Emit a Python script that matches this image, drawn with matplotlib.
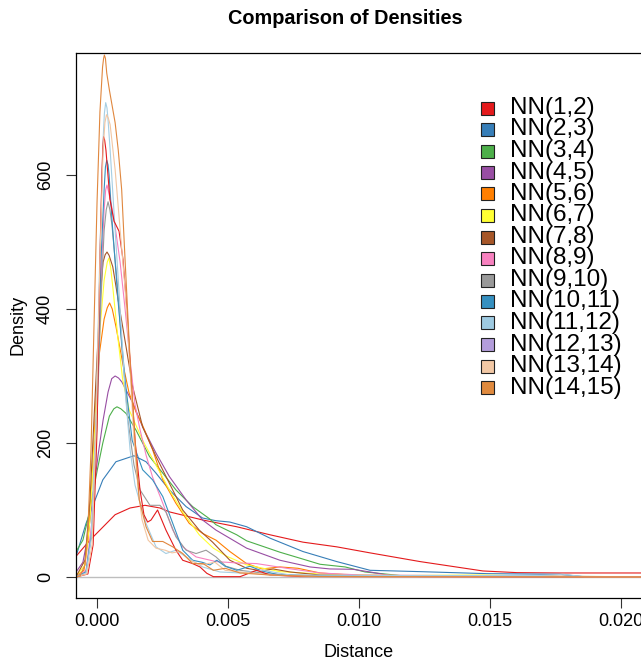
import matplotlib as mpl
mpl.use('Agg')
import matplotlib.pyplot as plt
from matplotlib.patches import Rectangle

plt.rcParams['font.family'] = ['Liberation Sans', 'DejaVu Sans']

# density curves (x = distance, y = density)
x_nn12 = [-0.00081, -0.00028, 0.00010, 0.00068, 0.00125, 0.00182, 0.00239, 0.00277, 0.00403, 0.00532, 0.00659, 0.00785, 0.00914, 0.01041, 0.01232, 0.01472, 0.01602, 0.01766, 0.02148]
y_nn12 = [31, 55, 70, 93, 103, 107, 103, 97, 85, 75, 63, 52, 45, 36, 23, 9, 6.5, 6, 6]

x_nn23 = [-0.00081, -0.00043, 0.00021, 0.00071, 0.00140, 0.00186, 0.00224, 0.00275, 0.00339, 0.00402, 0.00453, 0.00506, 0.00570, 0.00659, 0.00785, 0.00914, 0.01041, 0.01232, 0.01486, 0.01766, 0.01854, 0.02148]
y_nn23 = [31, 80, 145, 172, 181, 172, 155, 130, 105, 88, 84, 82, 75, 58, 38, 23, 10, 8, 5, 4, 0.5, 0.5]

x_nn34 = [-0.00081, -0.00055, -0.00037, -0.00018, 0.0, 0.00021, 0.00046, 0.00063, 0.00075, 0.00090, 0.00110, 0.00148, 0.00199, 0.00250, 0.00300, 0.00364, 0.00428, 0.00453, 0.00532, 0.00570, 0.00697, 0.00774, 0.00850, 0.00946, 0.01022, 0.01156, 0.01919, 0.02148]
y_nn34 = [38, 55, 85, 122, 160, 200, 240, 251, 254, 251, 244, 219, 180, 155, 130, 105, 87, 78, 63, 54, 37, 28, 19, 15, 7.5, 2.2, 0.7, 0]

x_nn45 = [-0.00081, -0.00055, -0.00035, -0.00016, 0.00003, 0.00022, 0.00041, 0.00055, 0.00068, 0.00081, 0.00094, 0.00135, 0.00173, 0.00224, 0.00275, 0.00339, 0.00402, 0.00453, 0.00570, 0.00697, 0.00812, 0.00888, 0.00976, 0.01041, 0.01117, 0.01232, 0.02148]
y_nn45 = [7.5, 22, 63, 122, 182, 234, 276, 296, 300, 297, 291, 260, 224, 185, 150, 115, 85, 70, 43, 25, 15, 12, 11.5, 7.5, 2.2, 0.7, 0]

x_nn56 = [-0.00081, -0.00051, -0.00035, -0.00020, -0.00005, 0.00008, 0.00026, 0.00038, 0.00047, 0.00057, 0.00071, 0.00097, 0.00121, 0.00148, 0.00173, 0.00211, 0.00250, 0.00300, 0.00351, 0.00402, 0.00453, 0.00506, 0.00570, 0.00629, 0.00697, 0.00766, 0.00850, 0.01003, 0.01537, 0.01640, 0.01766, 0.02148]
y_nn56 = [0.7, 10, 55, 145, 264, 334, 385, 402, 409, 400, 374, 319, 275, 246, 226, 190, 145, 110, 80, 65, 55, 38, 20, 12, 15, 13, 6, 2, 1.5, 2, 0.7, 0]

x_nn67 = [-0.00081, -0.00047, -0.00028, -0.00009, 0.00010, 0.00026, 0.00038, 0.00044, 0.00051, 0.00059, 0.00078, 0.00097, 0.00122, 0.00173, 0.00224, 0.00275, 0.00326, 0.00389, 0.00443, 0.00494, 0.00570, 0.00697, 0.00850, 0.01156, 0.01461, 0.01766, 0.02148]
y_nn67 = [0.7, 18, 85, 219, 369, 443, 470, 476, 462, 433, 359, 294, 249, 204, 167, 130, 97, 63, 43, 31, 18, 8, 4.5, 2.2, 3, 0.7, 0]

x_nn78 = [-0.00081, -0.00047, -0.00028, -0.00009, 0.00010, 0.00022, 0.00030, 0.00037, 0.00045, 0.00059, 0.00084, 0.00110, 0.00135, 0.00173, 0.00224, 0.00275, 0.00326, 0.00389, 0.00440, 0.00506, 0.00570, 0.00629, 0.00671, 0.00736, 0.00850, 0.01156, 0.02148]
y_nn78 = [0.7, 25, 115, 264, 414, 470, 481, 485, 480, 463, 403, 343, 284, 224, 180, 140, 100, 70, 52, 25, 13, 9, 12, 7.5, 3, 1.5, 0]

x_nn89 = [-0.00081, -0.00043, -0.00020, -0.00001, 0.00014, 0.00026, 0.00032, 0.00037, 0.00043, 0.00055, 0.00068, 0.00087, 0.00106, 0.00125, 0.00144, 0.00163, 0.00186, 0.00211, 0.00250, 0.00288, 0.00326, 0.00377, 0.00453, 0.00532, 0.00608, 0.00723, 0.00850, 0.01003, 0.02148]
y_nn89 = [0, 10, 85, 264, 443, 548, 578, 585, 575, 553, 523, 470, 400, 324, 257, 220, 182, 149, 110, 70, 45, 30, 23, 21, 20, 13, 6, 3, 0]

x_nn910 = [-0.00081, -0.00043, -0.00020, -0.00001, 0.00014, 0.00026, 0.00034, 0.00041, 0.00048, 0.00056, 0.00075, 0.00094, 0.00117, 0.00140, 0.00163, 0.00201, 0.00239, 0.00262, 0.00300, 0.00339, 0.00377, 0.00415, 0.00453, 0.00491, 0.00545, 0.00659, 0.00850, 0.02148]
y_nn910 = [0, 7.5, 70, 234, 413, 517, 548, 560, 548, 525, 443, 340, 234, 167, 130, 107, 107, 97, 60, 40, 35, 40, 30, 16, 10, 4.5, 1.5, 0]

x_nn1011 = [-0.00081, -0.00043, -0.00020, -0.00001, 0.00014, 0.00026, 0.00031, 0.00036, 0.00041, 0.00045, 0.00056, 0.00079, 0.00106, 0.00133, 0.00173, 0.00211, 0.00250, 0.00288, 0.00326, 0.00364, 0.00400, 0.00430, 0.00456, 0.00488, 0.00532, 0.00583, 0.00629, 0.00697, 0.00888, 0.02148]
y_nn1011 = [0, 7.5, 70, 264, 473, 578, 612, 622, 615, 600, 533, 413, 294, 204, 160, 145, 120, 80, 40, 25, 22, 18, 25, 16, 10, 16, 9, 3, 1.5, 0]

x_nn1112 = [-0.00081, -0.00043, -0.00024, -0.00005, 0.00010, 0.00022, 0.00027, 0.00032, 0.00037, 0.00041, 0.00049, 0.00068, 0.00087, 0.00106, 0.00125, 0.00144, 0.00160, 0.00186, 0.00224, 0.00262, 0.00300, 0.00339, 0.00402, 0.00468, 0.00545, 0.00632, 0.00736, 0.01156, 0.01690, 0.01778, 0.01862, 0.02148]
y_nn1112 = [0, 6, 55, 234, 488, 652, 692, 708, 700, 682, 637, 518, 400, 279, 190, 137, 115, 80, 45, 35, 40, 30, 15, 7.5, 6, 10, 3, 2.2, 2.2, 4, 0.3, 0]

x_nn1213 = [-0.00081, -0.00036, -0.00016, -0.00001, 0.00010, 0.00018, 0.00021, 0.00024, 0.00028, 0.00033, 0.00048, 0.00064, 0.00083, 0.00098, 0.00113, 0.00129, 0.00144, 0.00163, 0.00178, 0.00192, 0.00205, 0.00230, 0.00262, 0.00300, 0.00326, 0.00364, 0.00392, 0.00418, 0.00443, 0.00545, 0.00608, 0.00659, 0.00774, 0.02148]
y_nn1213 = [0, 4.5, 48, 219, 473, 607, 640, 657, 652, 637, 564, 531, 516, 474, 400, 294, 204, 130, 93, 82, 85, 100, 70, 40, 25, 20, 15, 5.5, 0.5, 0.5, 10, 3, 0.7, 0]

x_nn1314 = [-0.00081, -0.00040, -0.00020, -0.00005, 0.00010, 0.00022, 0.00029, 0.00035, 0.00042, 0.00049, 0.00068, 0.00087, 0.00106, 0.00125, 0.00140, 0.00156, 0.00171, 0.00194, 0.00224, 0.00259, 0.00285, 0.00316, 0.00354, 0.00392, 0.00449, 0.00488, 0.00545, 0.00659, 0.00850, 0.02148]
y_nn1314 = [0, 4.5, 48, 219, 473, 637, 678, 690, 685, 675, 608, 519, 430, 310, 204, 130, 85, 55, 43, 40, 36, 38, 25, 18, 22, 10, 7.5, 3, 0.7, 0]

x_nn1415 = [-0.00081, -0.00066, -0.00047, -0.00036, -0.00024, -0.00013, -0.00001, 0.00010, 0.00020, 0.00024, 0.00027, 0.00031, 0.00036, 0.00046, 0.00055, 0.00068, 0.00080, 0.00093, 0.00106, 0.00125, 0.00144, 0.00160, 0.00186, 0.00211, 0.00250, 0.00288, 0.00326, 0.00364, 0.00404, 0.00443, 0.00488, 0.00545, 0.00659, 0.00850, 0.02148]
y_nn1415 = [0, 1.5, 18, 70, 190, 369, 560, 694, 761, 774, 779, 774, 752, 727, 707, 678, 637, 578, 473, 324, 204, 115, 75, 53, 53, 45, 35, 20, 20, 10, 13, 6, 3, 0.7, 0]

labels = ['NN(1,2)', 'NN(2,3)', 'NN(3,4)', 'NN(4,5)', 'NN(5,6)', 'NN(6,7)', 'NN(7,8)',
          'NN(8,9)', 'NN(9,10)', 'NN(10,11)', 'NN(11,12)', 'NN(12,13)', 'NN(13,14)', 'NN(14,15)']
xs = [x_nn12, x_nn23, x_nn34, x_nn45, x_nn56, x_nn67, x_nn78, x_nn89, x_nn910,
      x_nn1011, x_nn1112, x_nn1213, x_nn1314, x_nn1415]
ys = [y_nn12, y_nn23, y_nn34, y_nn45, y_nn56, y_nn67, y_nn78, y_nn89, y_nn910,
      y_nn1011, y_nn1112, y_nn1213, y_nn1314, y_nn1415]

line_cols = ['#E41A1C', '#377EB8', '#4DAF4A', '#984EA3', '#FF7F00', '#FFFF33', '#A65628',
             '#F781BF', '#999999', '#3690C0', '#A6CEE3', '#E41A1C', '#F2C6A2', '#E0873E']
legend_cols = ['#E41A1C', '#377EB8', '#4DAF4A', '#984EA3', '#FF7F00', '#FFFF33', '#A65628',
               '#F781BF', '#999999', '#3690C0', '#9ECAE1', '#B39DDB', '#F2C8A5', '#E08A3E']

W, H = 641, 665
fig = plt.figure(figsize=(W/100, H/100), dpi=100)
ax = fig.add_axes([76.3/W, 1-597.7/H, 1-76.3/W, (597.7-52.7)/H])

ax.axhline(0, color='#BEBEBE', lw=1.0, zorder=1)
for x, y, c in zip(xs, ys, line_cols):
    ax.plot(x, y, color=c, lw=0.8, zorder=2)

ax.set_xlim(-0.000802, 0.020753)
ax.set_ylim(-30.9, 782.5)
ax.set_xticks([0, 0.005, 0.010, 0.015, 0.020])
ax.set_xticklabels(['0.000', '0.005', '0.010', '0.015', '0.020'])
ax.set_yticks([0, 200, 400, 600])
ax.set_yticklabels(['0', '200', '400', '600'], rotation=90, va='center')
ax.tick_params(axis='both', direction='out', length=7, width=0.8, labelsize=13, color='#333333')
ax.tick_params(axis='x', pad=4)
ax.tick_params(axis='y', pad=9)
ax.spines['right'].set_visible(False)
for s in ['left', 'bottom', 'top']:
    ax.spines[s].set_linewidth(0.9)

ax.set_xlabel('Distance', fontsize=13)
ax.xaxis.set_label_coords(0.5, -0.085)
ax.set_ylabel('Density', fontsize=13)
ax.yaxis.set_label_coords(-0.088, 0.5)

fig.text(345/W, 1-19/H, 'Comparison of Densities', ha='center', va='center',
         fontsize=14.3, fontweight='bold')

# legend, no frame
for i, (lab, c) in enumerate(zip(labels, legend_cols)):
    yc = 108 + i*21.5
    fig.add_artist(Rectangle((481/W, 1-(yc+6.5)/H), 13/W, 13/H, transform=fig.transFigure,
                             facecolor=c, edgecolor='#222222', lw=0.8))
    fig.text(510/W, 1-yc/H, lab, ha='left', va='center', fontsize=17.5)

plt.savefig('out.png', dpi=100, facecolor='w')
